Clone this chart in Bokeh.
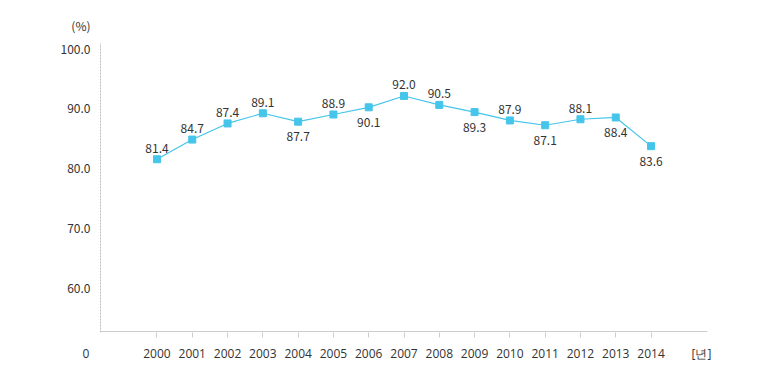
from bokeh.plotting import figure
from bokeh.models import ColumnDataSource, Range1d, FixedTicker, LinearAxis
from bokeh.core.properties import value
from bokeh.embed import file_html
from bokeh.resources import INLINE

years = list(range(2000, 2015))
rates = [81.4, 84.7, 87.4, 89.1, 87.7, 88.9, 90.1, 92.0, 90.5, 89.3, 87.9, 87.1, 88.1, 88.4, 83.6]
label_side = ["above", "above", "above", "above", "below", "above", "below", "above",
              "above", "below", "above", "below", "above", "below", "below"]
y_ticks = [60, 70, 80, 90, 100]
y_tick_labels = {60: "60.0", 70: "70.0", 80: "80.0", 90: "90.0", 100: "100.0"}
zero_label = "0"
unit_y = "(%)"
unit_x = "[년]"

# layout-only positions for captions and axis geometry
ZERO_AT = 1997.99
UNIT_Y_AT = 103.8
UNIT_X_AT = 2015.43
X_LEFT, X_RIGHT = 1998.4, 2015.6
Y_BOTTOM, Y_TOP = 52.4, 100.8

LINE = "#45c5ea"
TXT = "#333333"
KFONT = "Noto Sans CJK KR"

offsets = [-11 if s == "above" else 15 for s in label_side]
src = ColumnDataSource(dict(x=years, y=rates, txt=[f"{v:.1f}" for v in rates], off=offsets))

p = figure(width=764, height=364, output_backend="svg", toolbar_location=None,
           x_range=Range1d(1997.833, X_RIGHT), y_range=Range1d(Y_BOTTOM, 104.8),
           min_border_left=80, min_border_right=57, min_border_top=19, min_border_bottom=31)
p.outline_line_color = None
p.xgrid.visible = False
p.ygrid.visible = False

p.line("x", "y", source=src, line_color=LINE, line_width=1.2)
p.scatter("x", "y", source=src, marker="square", size=7, fill_color=LINE, line_color=LINE)
p.text("x", "y", text="txt", source=src, y_offset="off", text_align="center",
       text_baseline="middle", text_font=value(KFONT), text_font_size="12px", text_color=TXT)

# x axis: year labels + "0" + unit caption; year tick marks drawn as minor ticks
xa = p.xaxis[0]
xa.ticker = FixedTicker(ticks=[ZERO_AT] + years + [UNIT_X_AT], minor_ticks=years)
xa.major_label_overrides = {ZERO_AT: zero_label, UNIT_X_AT: unit_x, **{y: str(y) for y in years}}
xa.axis_line_color = None
xa.major_tick_line_color = None
xa.major_tick_out = 5
xa.major_tick_in = 0
xa.minor_tick_line_color = "#cccccc"
xa.minor_tick_out = 5
xa.minor_tick_in = 0
xa.major_label_standoff = 7
xa.major_label_text_font = "Open Sans"
xa.major_label_text_font_size = "12px"
xa.major_label_text_color = TXT

# x axis line (from the y axis to the right end)
xline = LinearAxis(fixed_location=Y_BOTTOM + 0.1, bounds=(X_LEFT, X_RIGHT), ticker=FixedTicker(ticks=[]),
                   axis_line_color="#cccccc", major_tick_line_color=None, minor_tick_line_color=None,
                   major_label_text_font_size="0px")
p.add_layout(xline, "above")

# y axis labels incl. unit caption
ya = p.yaxis[0]
ya.ticker = FixedTicker(ticks=y_ticks + [UNIT_Y_AT])
ya.major_label_overrides = {**y_tick_labels, UNIT_Y_AT: unit_y}
ya.axis_line_color = None
ya.major_tick_line_color = None
ya.minor_tick_line_color = None
ya.major_tick_out = 0
ya.major_tick_in = 0
ya.major_label_standoff = -10
ya.major_label_text_font = KFONT
ya.major_label_text_font_size = "12px"
ya.major_label_text_color = TXT

# dotted y axis line
yline = LinearAxis(fixed_location=X_LEFT, bounds=(Y_BOTTOM, Y_TOP), ticker=FixedTicker(ticks=[]),
                   axis_line_color="#bbbbbb", axis_line_dash="2 1",
                   major_tick_line_color=None, minor_tick_line_color=None,
                   major_label_text_font_size="0px")
p.add_layout(yline, "right")

open("out.html", "w").write(file_html(p, INLINE))
